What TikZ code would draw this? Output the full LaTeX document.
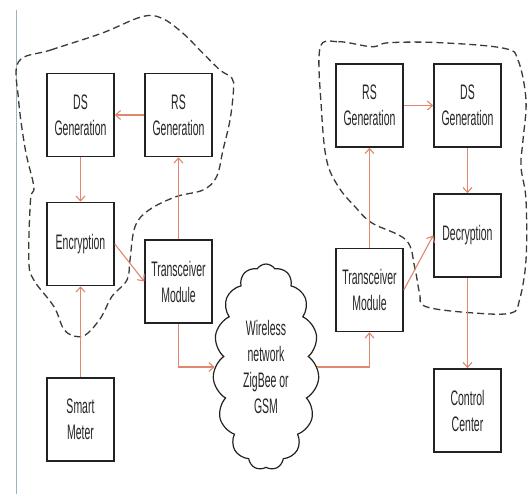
\documentclass[tikz,border=0pt]{standalone}
\usepackage{fontspec}
\setmainfont{Liberation Sans}[FakeStretch=0.5]
\usetikzlibrary{arrows.meta,shapes.symbols}
\definecolor{arr}{HTML}{E0876E}
\definecolor{boxline}{HTML}{222222}
\definecolor{blob}{HTML}{3A3A3A}
\definecolor{vline}{HTML}{9DB2BA}
\begin{document}
\begin{tikzpicture}[x=1pt,y=-1pt,
  box/.style={draw=boxline,line width=1.6pt,rectangle,minimum width=67pt,minimum height=83pt,
    align=center,inner sep=0pt,font=\fontsize{21}{26}\selectfont,text=black!85},
  conn/.style={draw=arr,line width=1.1pt,-{Straight Barb[length=5pt,width=9pt]}},
  blobline/.style={draw=blob,line width=1.3pt,dash pattern=on 7pt off 4pt}]
\useasboundingbox (0,0) rectangle (531,494);
\fill[white] (0,0) rectangle (531,494);
\draw[vline,line width=1pt] (16,10) -- (16,494);
% dashed regions
\draw[blobline] plot[smooth cycle,tension=0.6] coordinates{
 (18.6,61.7) (50.8,50) (101.5,33.3) (142,16.7) (162,18.3) (183,33.3) (203,53.3) (220,70) (232,78.3) (233.5,90)
 (230,120) (223,150) (216.6,176.7) (203,190) (176,196.7) (149,210) (135,226.7) (130,260) (127,280)
 (111.7,296.7) (101.5,316.7) (88,333) (77.8,336.7) (64.3,330) (54,306.7) (33.8,280) (28.8,260)
 (30.5,200) (33.8,186.7) (25.4,150) (18.6,100)};
\draw[blobline] plot[smooth cycle,tension=0.6] coordinates{
 (320,48.3) (338.4,41.7) (372,46.7) (389,42.7) (440,42.7) (504,48.3) (518,60) (526,100) (523,140)
 (521,166.7) (526,200) (526,260) (519.5,300) (511,313) (474,313) (426,306.7) (419.6,293) (414.6,266.7)
 (406,240) (372,223) (355,206.7) (338.4,186.7) (326.6,160) (321.5,110)};
% boxes
\node[box] (dsL) at (80.5,115) {DS\\Generation};
\node[box] (rsL) at (178.5,115) {RS\\Generation};
\node[box] (enc) at (80.5,244) {Encryption};
\node[box] (trL) at (178.5,281.5) {Transceiver\\Module};
\node[box] (sm) at (80.5,419.5) {Smart\\Meter};
\node[box] (rsR) at (369.5,105.5) {RS\\Generation};
\node[box] (dsR) at (467.5,105.5) {DS\\Generation};
\node[box] (dec) at (467.5,235.5) {Decryption};
\node[box] (trR) at (369.5,290) {Transceiver\\Module};
\node[box] (cc) at (467.5,410.5) {Control\\Center};
\node[cloud,draw=boxline,line width=1.2pt,cloud puffs=15,cloud puff arc=115,cloud ignores aspect,
  minimum width=106pt,minimum height=206pt,inner sep=0pt,align=center,
  font=\fontsize{21}{26}\selectfont,text=black!85] (net) at (266,367) {Wireless\\network\\ZigBee or\\GSM};
% connectors
\draw[conn] (rsL) -- (dsL);
\draw[conn] (dsL) -- (enc);
\draw[conn] (sm) -- (enc);
\draw[conn] (enc.east) -- (trL.west);
\draw[conn] (trL) -- (rsL);
\draw[conn] (trL.south) |- (net.west);
\draw[conn] (net.east) -| (trR.south);
\draw[conn] (trR) -- (rsR);
\draw[conn] (rsR) -- (dsR);
\draw[conn] (dsR) -- (dec);
\draw[conn] (trR.east) -- (dec.west);
\draw[conn] (dec) -- (cc);
\end{tikzpicture}
\end{document}
